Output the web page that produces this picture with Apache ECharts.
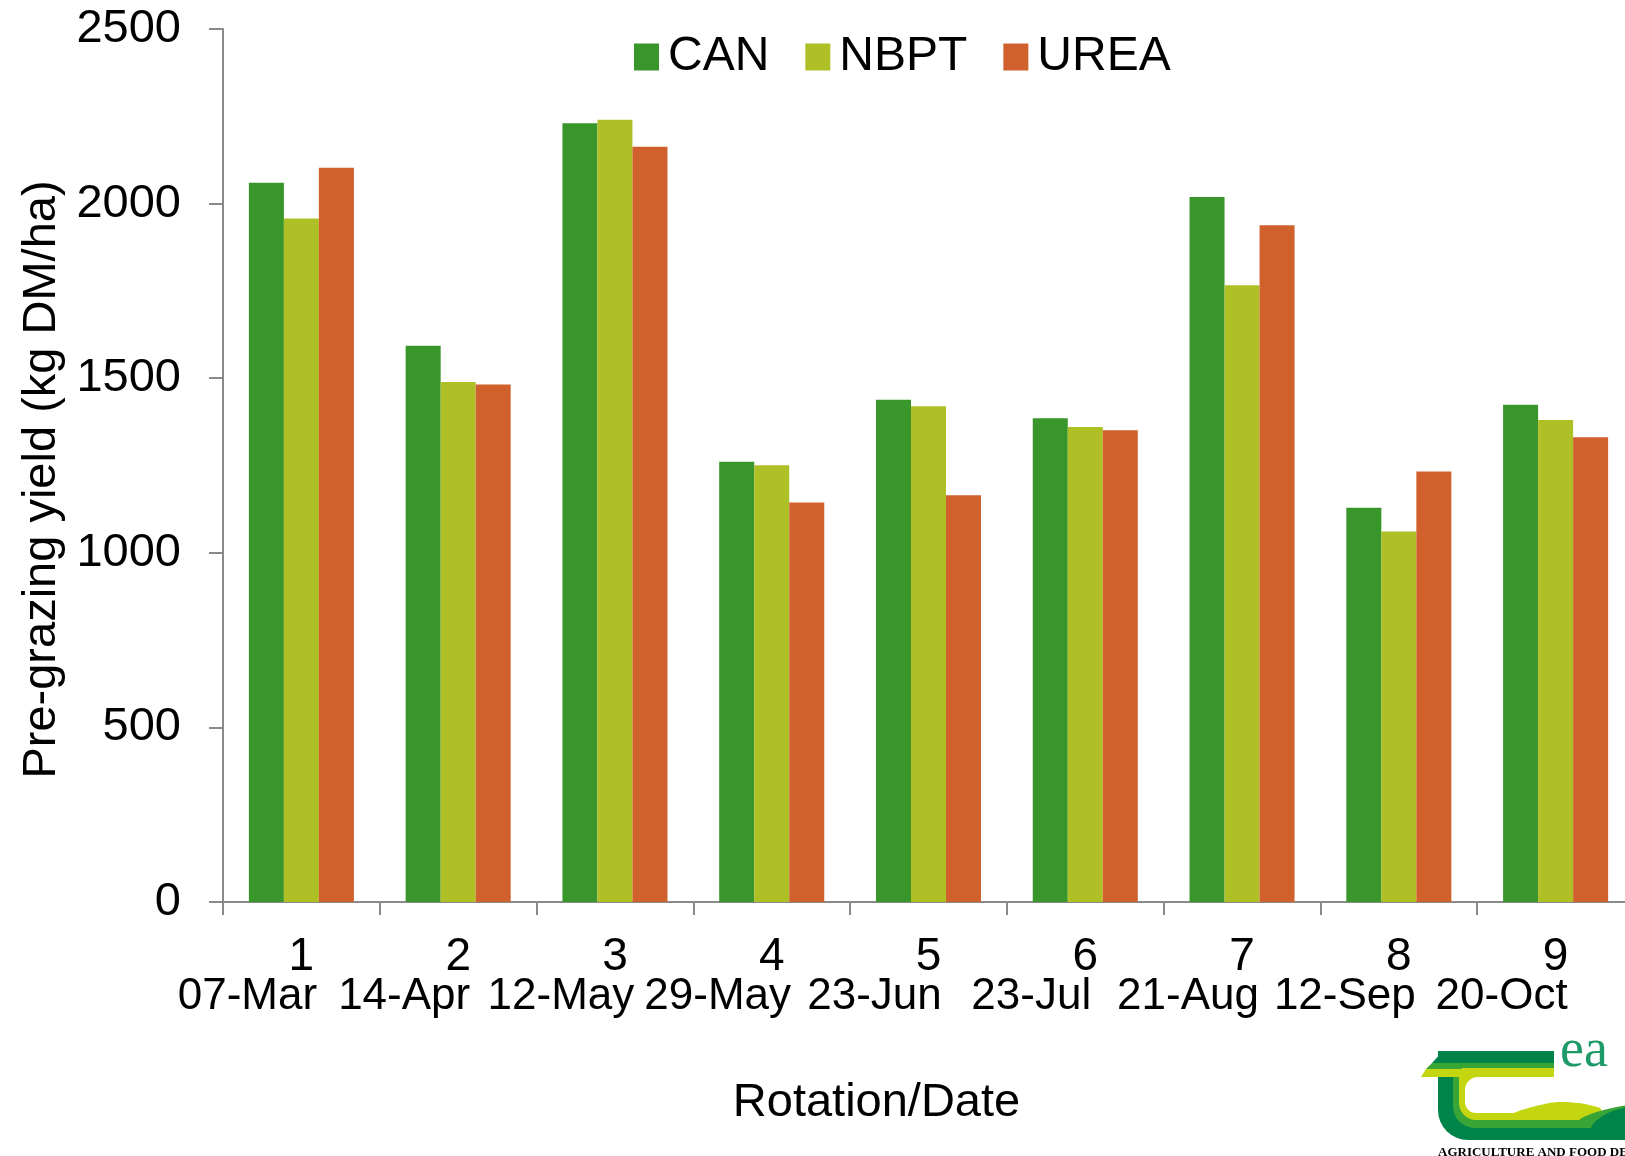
<!DOCTYPE html>
<html>
<head>
<meta charset="utf-8">
<title>Pre-grazing yield</title>
<script src="https://cdn.jsdelivr.net/npm/echarts@6/dist/echarts.min.js"></script>
<style>
  html, body { margin: 0; padding: 0; background: #fff; }
  #chart { width: 1625px; height: 1156px; }
</style>
</head>
<body>
<div id="chart"></div>
<script>
// data
var rotations = ['1', '2', '3', '4', '5', '6', '7', '8', '9']
var dates = ['07-Mar', '14-Apr', '12-May', '29-May', '23-Jun', '23-Jul', '21-Aug', '12-Sep', '20-Oct']
var can = [2060, 1593, 2230, 1261, 1438, 1385, 2019, 1129, 1424]
var nbpt = [1957, 1489, 2240, 1251, 1420, 1360, 1766, 1061, 1380]
var urea = [2103, 1482, 2163, 1144, 1165, 1351, 1938, 1233, 1331]
var yTicks = [0, 500, 1000, 1500, 2000, 2500]

var font = '"Liberation Sans", Arial, sans-serif'
var axisGrey = '#8a8a8a'
var dark = '#00844a'
var mid = '#38a536'
var lime = '#c3d610'

var chart = echarts.init(document.getElementById('chart'))

function bar(name, data, color) {
  return {
    name: name,
    type: 'bar',
    data: data,
    barGap: 0,
    barCategoryGap: '33%',
    itemStyle: { color: color }
  }
}

// teagasc logo, cropped at the right edge like the original
var logo = {
  type: 'group',
  silent: true,
  children: [
    { type: 'rect', shape: { x: 1438, y: 1051, width: 260, height: 89, r: [0, 0, 0, 30] }, style: { fill: dark } },
    { type: 'rect', shape: { x: 1453, y: 1063, width: 260, height: 65, r: [0, 0, 0, 22] }, style: { fill: mid } },
    { type: 'rect', shape: { x: 1459, y: 1068, width: 260, height: 52, r: [0, 0, 0, 17] }, style: { fill: lime } },
    { type: 'rect', shape: { x: 1465, y: 1077, width: 260, height: 36, r: [13, 0, 0, 11] }, style: { fill: '#fff' } },
    { type: 'polygon', shape: { smooth: 0.4, points: [[1515, 1114], [1540, 1105], [1565, 1102], [1600, 1108], [1600, 1114]] }, style: { fill: lime } },
    { type: 'polygon', shape: { smooth: 0.4, points: [[1580, 1121], [1600, 1111], [1640, 1106], [1640, 1121]] }, style: { fill: mid } },
    { type: 'polygon', shape: { smooth: 0.4, points: [[1592, 1129], [1608, 1113], [1640, 1109], [1640, 1129]] }, style: { fill: dark } },
    { type: 'rect', shape: { x: 1554, y: 1040, width: 80, height: 56 }, style: { fill: '#fff' } },
    { type: 'polygon', shape: { points: [[1443, 1051], [1462, 1051], [1462, 1063], [1432, 1063]] }, style: { fill: dark } },
    { type: 'polygon', shape: { points: [[1432, 1063], [1462, 1063], [1462, 1069], [1426, 1069]] }, style: { fill: mid } },
    { type: 'polygon', shape: { points: [[1426, 1069], [1462, 1069], [1462, 1077], [1421, 1077]] }, style: { fill: lime } },
    { type: 'text', x: 1560, y: 1079, style: { text: 'ea', fill: '#1d9a68', font: '54px "Liberation Serif", serif', verticalAlign: 'bottom' } },
    { type: 'text', x: 1438, y: 1146, style: { text: 'AGRICULTURE AND FOOD DEVELOPMENT AUTHORITY', fill: '#000', font: 'bold 13px "Liberation Serif", serif' } }
  ]
}

chart.setOption({
  animation: false,
  textStyle: { fontFamily: font, color: '#000' },
  legend: {
    data: ['CAN', 'NBPT', 'UREA'],
    left: 629,
    top: 28,
    icon: 'rect',
    itemWidth: 25,
    itemHeight: 27,
    itemGap: 36,
    textStyle: { fontSize: 48, color: '#000', fontFamily: font, padding: [0, 0, 0, 4] }
  },
  grid: {
    left: 223,
    right: -9,
    top: 29,
    bottom: 254,
    outerBoundsMode: 'none',
    containLabel: false
  },
  xAxis: {
    type: 'category',
    data: rotations,
    name: 'Rotation/Date',
    nameLocation: 'middle',
    nameGap: 178,
    nameTextStyle: { fontSize: 47, color: '#000', fontFamily: font, padding: [0, 104, 0, 0] },
    axisLine: { lineStyle: { color: axisGrey, width: 2 } },
    axisTick: { show: true, length: 13, lineStyle: { color: axisGrey, width: 2 } },
    axisLabel: {
      interval: 0,
      margin: 36,
      color: '#000',
      hideOverlap: false,
      formatter: function(value, idx) {
        return '{n|' + value + '}\n{d|' + dates[idx] + '}'
      },
      rich: {
        n: { fontSize: 46, lineHeight: 39, fontFamily: font, color: '#000' },
        d: { fontSize: 44, lineHeight: 39, fontFamily: font, color: '#000', padding: [0, 108, 0, 0] }
      }
    }
  },
  yAxis: {
    type: 'value',
    min: 0,
    max: yTicks[yTicks.length - 1],
    interval: 500,
    name: 'Pre-grazing yield (kg DM/ha)',
    nameLocation: 'middle',
    nameGap: 150,
    nameTextStyle: { fontSize: 47, color: '#000', fontFamily: font, padding: [0, 28, 0, 0] },
    axisLine: { show: true, lineStyle: { color: axisGrey, width: 2 } },
    axisTick: { show: true, length: 14, lineStyle: { color: axisGrey, width: 2 } },
    splitLine: { show: false },
    axisLabel: {
      fontSize: 47,
      margin: 42,
      color: '#000',
      fontFamily: font,
      formatter: function(v) { return String(v) }
    }
  },
  series: [
    bar('CAN', can, '#38962a'),
    bar('NBPT', nbpt, '#afbf26'),
    bar('UREA', urea, '#d1612c')
  ],
  graphic: [logo]
})
</script>
</body>
</html>
